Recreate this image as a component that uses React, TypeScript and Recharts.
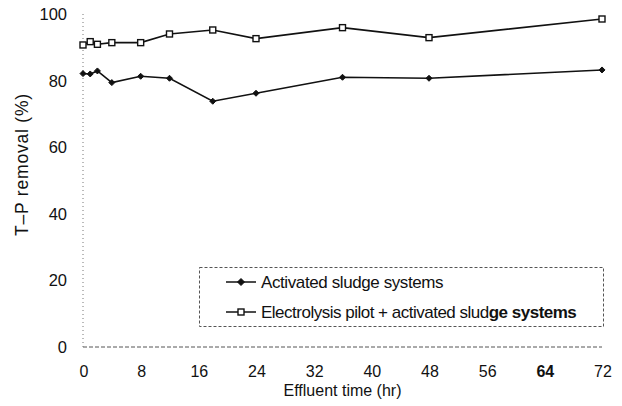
import React from "react";
import { LineChart, Line, XAxis, YAxis } from "recharts";

// sampling times (hr) and T-P removal (%) for both systems
const hours = [0, 1, 2, 4, 8, 12, 18, 24, 36, 48, 72];
const activatedSludge = [82.1, 82.0, 82.9, 79.4, 81.3, 80.7, 73.8, 76.2, 81.0, 80.7, 83.2];
const electrolysisPilot = [90.7, 91.7, 90.9, 91.4, 91.4, 94.0, 95.2, 92.6, 95.9, 92.9, 98.5];

const xTicks = [0, 8, 16, 24, 32, 40, 48, 56, 64, 72];
const yTicks = [0, 20, 40, 60, 80, 100];

const seriesNames = ["Activated sludge systems", "Electrolysis pilot + activated sludge systems"];

const data = hours.map((h, i) => ({
  hr: h,
  activated: activatedSludge[i],
  electro: electrolysisPilot[i],
}));

const FONT = "'Liberation Sans', Arial, sans-serif";
const INK = "#111";

const Diamond = (props: any) => {
  const { cx, cy, r = 4.5 } = props;
  if (cx == null || cy == null) return null;
  return (
    <path
      d={`M${cx},${cy - r}L${cx + r},${cy}L${cx},${cy + r}L${cx - r},${cy}Z`}
      fill={INK}
      stroke={INK}
      strokeWidth={1}
    />
  );
};

const Square = (props: any) => {
  const { cx, cy, r = 3.8 } = props;
  if (cx == null || cy == null) return null;
  return (
    <rect x={cx - r} y={cy - r} width={r * 2} height={r * 2} fill="#fff" stroke={INK} strokeWidth={1.4} />
  );
};

const XTick = (props: any) => {
  const { x, y, payload } = props;
  return (
    <text
      x={x + 1}
      y={y + 22}
      textAnchor="middle"
      fontFamily={FONT}
      fontSize={16}
      fontWeight={payload.value === 64 ? 700 : 400}
      fill={INK}
    >
      {payload.value}
    </text>
  );
};

const YTick = (props: any) => {
  const { x, y, payload } = props;
  return (
    <text x={x - 8} y={y + 6} textAnchor="end" fontFamily={FONT} fontSize={16.5} fill={INK}>
      {payload.value}
    </text>
  );
};

const XTitle = (props: any) => {
  const { viewBox } = props;
  return (
    <text
      x={viewBox.x + viewBox.width / 2}
      y={viewBox.y + 49}
      textAnchor="middle"
      fontFamily={FONT}
      fontSize={16}
      fill={INK}
    >
      Effluent time (hr)
    </text>
  );
};

const YTitle = (props: any) => {
  const { viewBox } = props;
  const cy = viewBox.y + viewBox.height / 2 - 16;
  return (
    <text
      x={22}
      y={cy}
      transform={`rotate(-90, 22, ${cy})`}
      textAnchor="middle"
      dominantBaseline="central"
      fontFamily={FONT}
      fontSize={17.5}
      letterSpacing={0.8}
      fill={INK}
    >
      T–P removal (%)
    </text>
  );
};

// dashed legend box in the lower right of the plot
const LegendBox = () => (
  <svg width={405} height={60} style={{ position: "absolute", left: 199, top: 267 }}>
    <rect x={0.5} y={0.5} width={404} height={59} fill="#fff" stroke="#555" strokeDasharray="3 2" />
    <g>
      <line x1={27} x2={57} y1={15} y2={15} stroke={INK} strokeWidth={1.5} />
      <Diamond cx={42} cy={15} r={3.5} />
      <text x={62} y={21} fontFamily={FONT} fontSize={17} fill={INK} letterSpacing={-0.4}>
        {seriesNames[0]}
      </text>
    </g>
    <g>
      <line x1={27} x2={57} y1={45} y2={45} stroke={INK} strokeWidth={1.5} />
      <Square cx={42} cy={45} r={3} />
      <text x={62} y={51} fontFamily={FONT} fontSize={17} fill={INK} letterSpacing={-0.5}>
        Electrolysis pilot + activated slud<tspan fontWeight={700}>ge systems</tspan>
      </text>
    </g>
  </svg>
);

export default function App() {
  return (
    <div style={{ position: "absolute", left: 0, top: 0, width: 622, height: 406, background: "#fff" }}>
      <LineChart width={622} height={406} data={data} margin={{ top: 14, right: 20, bottom: 29, left: 0 }}>
        <XAxis
          dataKey="hr"
          type="number"
          domain={[0, 72]}
          ticks={xTicks}
          tick={<XTick />}
          tickLine={false}
          axisLine={{ stroke: "#555", strokeDasharray: "4 2", strokeWidth: 1 }}
          height={30}
          label={<XTitle />}
        />
        <YAxis
          type="number"
          domain={[0, 100]}
          ticks={yTicks}
          tick={<YTick />}
          tickLine={false}
          axisLine={{ stroke: "#777", strokeDasharray: "1 3", strokeWidth: 1 }}
          width={83}
          label={<YTitle />}
        />
        <Line
          dataKey="activated"
          name={seriesNames[0]}
          stroke={INK}
          strokeWidth={1.6}
          dot={<Diamond />}
          activeDot={false}
          isAnimationActive={false}
        />
        <Line
          dataKey="electro"
          name={seriesNames[1]}
          stroke={INK}
          strokeWidth={1.6}
          dot={<Square />}
          activeDot={false}
          isAnimationActive={false}
        />
      </LineChart>
      <LegendBox />
    </div>
  );
}
